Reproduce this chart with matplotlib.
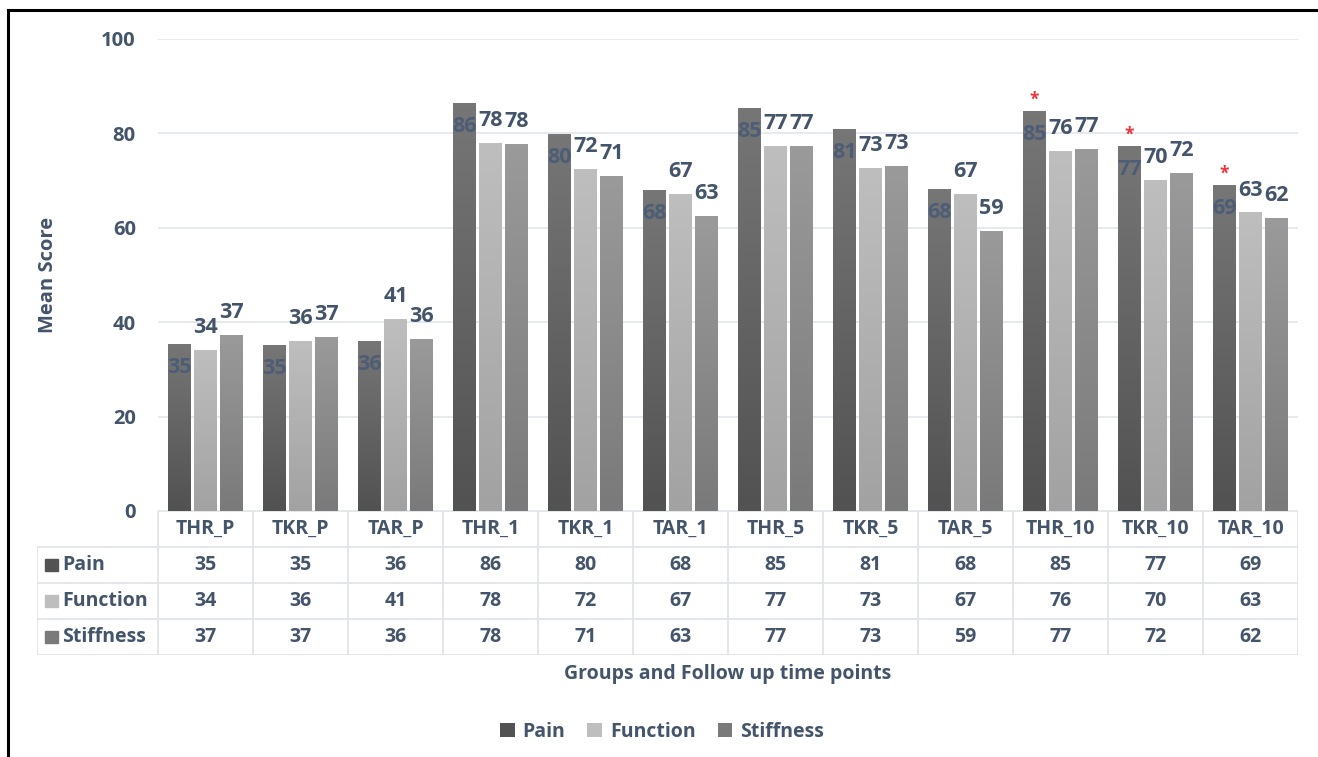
import numpy as np
import matplotlib.pyplot as plt
from matplotlib.patches import Patch, Rectangle
from matplotlib.colors import LinearSegmentedColormap

plt.rcParams['font.family'] = ['Open Sans', 'DejaVu Sans']
plt.rcParams['font.weight'] = 'bold'

groups = ['THR_P', 'TKR_P', 'TAR_P', 'THR_1', 'TKR_1', 'TAR_1',
          'THR_5', 'TKR_5', 'TAR_5', 'THR_10', 'TKR_10', 'TAR_10']
pain = [35.4, 35.2, 36.0, 86.4, 79.9, 68.0, 85.4, 80.9, 68.2, 84.7, 77.4, 69.1]
function = [34.1, 36.0, 40.7, 78.0, 72.5, 67.2, 77.3, 72.7, 67.2, 76.3, 70.1, 63.3]
stiffness = [37.3, 36.9, 36.4, 77.8, 71.0, 62.6, 77.3, 73.1, 59.3, 76.7, 71.6, 62.1]
significant = ['THR_10', 'TKR_10', 'TAR_10']

series = [('Pain', pain, '#767676', '#525252'),
          ('Function', function, '#bebebe', '#a2a2a2'),
          ('Stiffness', stiffness, '#9a9a9a', '#7a7a7a')]

TXT = '#44546A'
GRID = '#e1e5eb'
W, H = 1318, 757
FS = 14


def fig_rect(x0, y0, x1, y1):
    return [x0 / W, 1 - y1 / H, (x1 - x0) / W, (y1 - y0) / H]


fig = plt.figure(figsize=(W / 100, H / 100), dpi=100)
ax = fig.add_axes(fig_rect(158, 39, 1298, 511))

x = np.arange(len(groups))
offsets = [-0.274, 0, 0.274]
width = 0.24

for (name, vals, ctop, cbot), off in zip(series, offsets):
    cmap = LinearSegmentedColormap.from_list(name, [cbot, ctop])
    grad = np.linspace(0, 1, 100).reshape(-1, 1)
    bars = ax.bar(x + off, vals, width, color='none', edgecolor='none', zorder=2)
    for b, v in zip(bars, vals):
        im = ax.imshow(grad, cmap=cmap, origin='lower', aspect='auto',
                       extent=[b.get_x(), b.get_x() + width, 0, v], zorder=2)
        im.set_clip_path(b)
    for xi, v in zip(x + off, vals):
        if name == 'Pain':
            ax.annotate(f'{v:.0f}', (xi, v), xytext=(0, -17), textcoords='offset points',
                        ha='center', va='center', fontsize=15.5, color='#4d5d76',
                        fontweight='bold', zorder=3)
        else:
            ax.annotate(f'{v:.0f}', (xi, v), xytext=(0, 16), textcoords='offset points',
                        ha='center', va='center', fontsize=15.5, color=TXT,
                        fontweight='bold', zorder=3)

for g in significant:
    i = groups.index(g)
    ax.annotate('*', (x[i] + offsets[0], pain[i]), xytext=(0, 8), textcoords='offset points',
                ha='center', va='center', fontsize=12.5, color='#f0303a', fontweight='bold')

ax.set_xlim(-0.5, len(groups) - 0.5)
ax.set_ylim(0, 100)
ax.set_yticks(range(0, 101, 20))
ax.tick_params(axis='y', length=0, pad=16, labelsize=14.5, labelcolor=TXT)
ax.set_xticks([])
ax.grid(axis='y', color=GRID, linewidth=1.2, zorder=0)
ax.set_axisbelow(True)
for s in ax.spines.values():
    s.set_visible(False)
for lbl in ax.get_yticklabels():
    lbl.set_fontweight('bold')
ax.set_ylabel('Mean Score', fontsize=14.5, color=TXT, fontweight='bold', labelpad=31)

# data table under the plot
tab = fig.add_axes(fig_rect(37, 511, 1298, 655))
left_units = (158 - 37) / 95
tab.set_xlim(-0.5 - left_units, len(groups) - 0.5)
tab.set_ylim(4, 0)
tab.axis('off')
lw = 1.3
for i, g in enumerate(groups):
    tab.text(i, 0.5, g, ha='center', va='center', fontsize=FS, color=TXT, fontweight='bold')
    for r, (name, vals, ctop, cbot) in enumerate(series):
        tab.text(i, r + 1.5, f'{vals[i]:.0f}', ha='center', va='center',
                 fontsize=FS, color=TXT, fontweight='bold')
# horizontal lines
tab.plot([-0.5, len(groups) - 0.5], [0, 0], color=GRID, lw=lw)
for r in range(1, 5):
    tab.plot([-0.5 - left_units, len(groups) - 0.5], [r, r], color=GRID, lw=lw)
# vertical lines
for k in range(len(groups) + 1):
    tab.plot([k - 0.5, k - 0.5], [0, 4], color=GRID, lw=lw)
tab.plot([-0.5 - left_units] * 2, [1, 4], color=GRID, lw=lw)
for r, (name, vals, ctop, cbot) in enumerate(series):
    x0 = -0.5 - left_units + 8 / 95
    tab.add_patch(Rectangle((x0, r + 1.5 - 0.18), 13 / 95, 0.36,
                            color=(ctop if name == 'Function' else cbot)))
    tab.text(x0 + 17 / 95, r + 1.5, name, ha='left', va='center', fontsize=FS,
             color=TXT, fontweight='bold')

fig.text(728 / W, 1 - 674 / H, 'Groups and Follow up time points', ha='center', va='center',
         fontsize=FS, color=TXT, fontweight='bold')

handles = [Patch(facecolor=(c1 if n == 'Function' else c2), label=n) for n, v, c1, c2 in series]
leg = fig.legend(handles=handles, loc='center', bbox_to_anchor=(662 / W, 1 - 732 / H), ncol=3,
                 frameon=False, fontsize=FS, handlelength=0.75, handleheight=0.75,
                 handletextpad=0.4, columnspacing=1.15)
for t in leg.get_texts():
    t.set_color(TXT)
    t.set_fontweight('bold')

# frame lines at left and top
fig.add_artist(plt.Line2D([8 / W, 8 / W], [0, 1 - 10 / H], color='black', lw=2.2,
                          transform=fig.transFigure))
fig.add_artist(plt.Line2D([8 / W, 1], [1 - 10 / H, 1 - 10 / H], color='black', lw=2.2,
                          transform=fig.transFigure))

fig.savefig('out.png', dpi=100)
